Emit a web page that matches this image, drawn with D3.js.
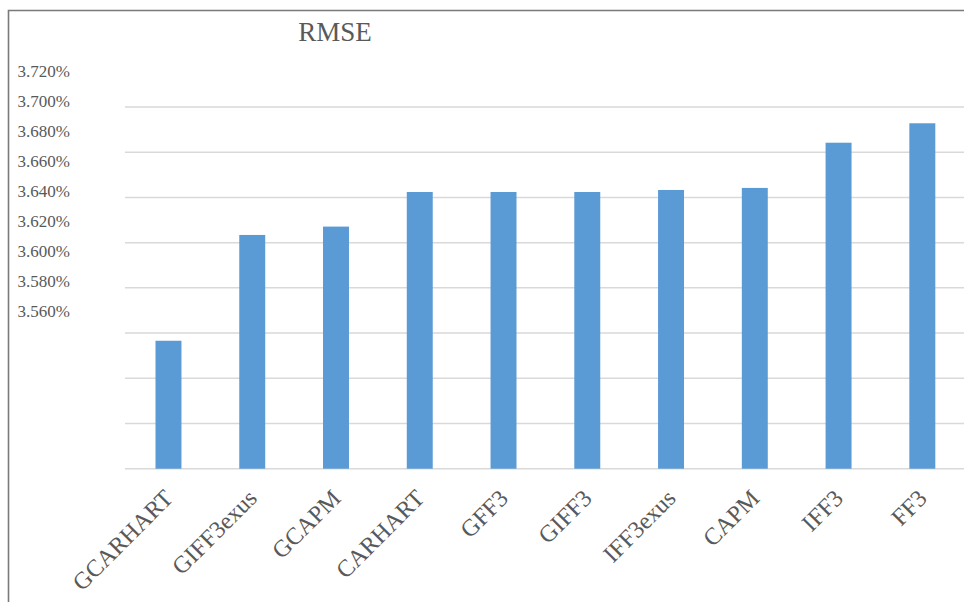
<!DOCTYPE html>
<html><head><meta charset="utf-8">
<script src="https://cdn.jsdelivr.net/npm/d3@7/dist/d3.min.js"></script>
<style>
html,body{margin:0;padding:0;background:#fff;}
svg{display:block;}
svg text{font-family:'Liberation Serif','Times New Roman',serif;}
</style>
</head><body>
<svg id="chart" width="964" height="602"></svg>
<script>
const categories = ["GCARHART","GIFF3exus","GCAPM","CARHART","GFF3","GIFF3","IFF3exus","CAPM","IFF3","FF3"];
const rmse = [3.5966, 3.6434, 3.6471, 3.6624, 3.6624, 3.6624, 3.6633, 3.6642, 3.6842, 3.6928];
const gridValues = [3.54, 3.56, 3.58, 3.60, 3.62, 3.64, 3.66, 3.68, 3.70];
const yTickValues = [3.72, 3.70, 3.68, 3.66, 3.64, 3.62, 3.60, 3.58, 3.56];
const yTickLabels = ["3.720%","3.700%","3.680%","3.660%","3.640%","3.620%","3.600%","3.580%","3.560%"];
const title = "RMSE";

const svg = d3.select("#chart");
const serif = "'Liberation Serif','Times New Roman',serif";
const textColor = "#595959";

// frame (left and top edges)
svg.append("path").attr("d","M8.5,602 L8.5,10.5 L964,10.5")
  .attr("fill","none").attr("stroke","#7a7a7a").attr("stroke-width",1.6);

const x = d3.scaleBand().domain(categories).range([126.6, 964.2]).paddingInner(0.69).paddingOuter(0.345);
const y = d3.scaleLinear().domain([3.54, 3.70]).range([468.7, 107]);
// label placement scale (labels in the source are offset from the gridlines)
const yLab = d3.scaleLinear().domain([3.56, 3.72]).range([311, 71]);

// gridlines
svg.append("g").selectAll("line").data(gridValues).join("line")
  .attr("x1", 125).attr("x2", 964)
  .attr("y1", d => y(d)).attr("y2", d => y(d))
  .attr("stroke", "#d9d9d9").attr("stroke-width", 1.5);

// bars
svg.append("g").selectAll("rect").data(categories).join("rect")
  .attr("x", d => x(d))
  .attr("width", x.bandwidth())
  .attr("y", (d,i) => y(rmse[i]))
  .attr("height", (d,i) => y(3.54) - y(rmse[i]))
  .attr("fill", "#5b9bd5");

// y axis labels
const yAxis = d3.axisLeft(yLab).tickValues(yTickValues)
  .tickFormat((d,i) => yTickLabels[i]).tickSize(0).tickPadding(0);
const gy = svg.append("g").attr("transform","translate(70,0)").call(yAxis)
  .attr("font-family", serif);
gy.select(".domain").remove();
gy.selectAll("text").style("font-family", serif).attr("font-size", 17)
  .attr("fill", textColor).attr("text-anchor","end");

// x axis labels
const xAxis = d3.axisBottom(x).tickSize(0).tickPadding(0);
const gx = svg.append("g").attr("transform","translate(0,468.7)").call(xAxis)
  .attr("font-family", serif);
gx.select(".domain").remove();
gx.selectAll("text")
  .style("font-family", serif).attr("font-size", 24).attr("fill", textColor)
  .attr("text-anchor","end").attr("dy", null).attr("y", 0)
  .attr("transform","translate(6,31) rotate(-45)");

// title
svg.append("text").attr("x", 335).attr("y", 41)
  .attr("text-anchor","middle").style("font-family", serif)
  .attr("font-size", 27).attr("fill", textColor).text(title);
</script>
</body></html>
